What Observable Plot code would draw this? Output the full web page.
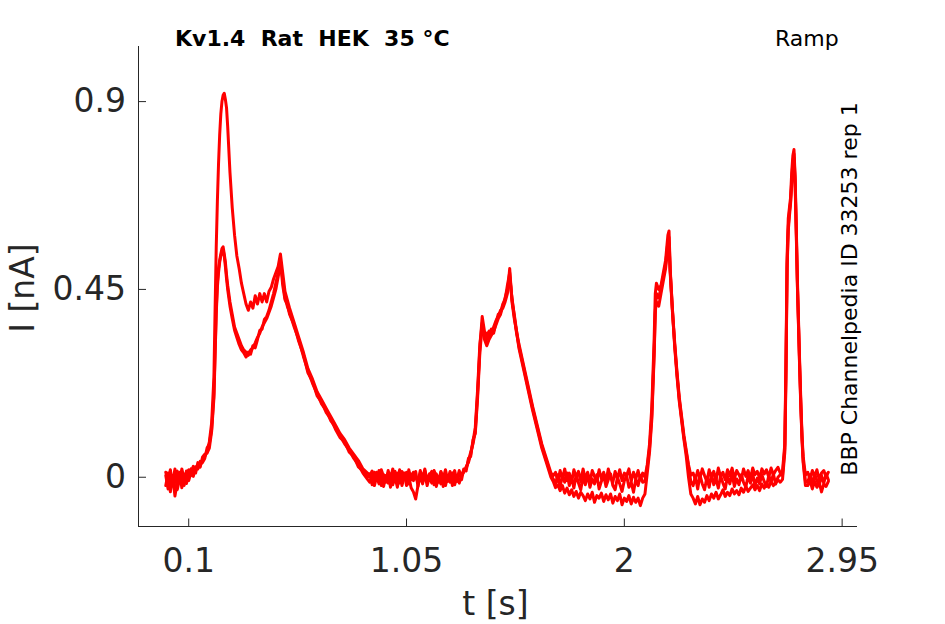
<!DOCTYPE html>
<html>
<head>
<meta charset="utf-8">
<script src="https://cdn.jsdelivr.net/npm/d3@7"></script>
<script src="https://cdn.jsdelivr.net/npm/@observablehq/plot@0.6"></script>
<style>
  html, body { margin: 0; padding: 0; background: #fff; overflow: hidden; }
  #wrap { position: relative; width: 945px; height: 624px; font-family: "DejaVu Sans", sans-serif; }
  .lbl { position: absolute; white-space: pre; line-height: 1; }
</style>
</head>
<body>
<div id="wrap">
  <div id="chart"></div>
  <div class="lbl" style="left:175px; top:28px; font-size:22px; font-weight:bold; color:#000;">Kv1.4  Rat  HEK  35 °C</div>
  <div class="lbl" style="left:775px; top:28px; font-size:22px; color:#000;">Ramp</div>
  <div class="lbl" style="left:850.4px; top:288.5px; font-size:22px; color:#000; transform:translate(-50%,-50%) rotate(-90deg);">BBP Channelpedia ID 33253 rep 1</div>
  <div class="lbl" style="left:21.6px; top:287.5px; font-size:33px; color:#262626; transform:translate(-50%,-50%) rotate(-90deg);">I [nA]</div>
  <div class="lbl" style="left:495.5px; top:587px; font-size:33px; color:#262626; transform:translateX(-50%);">t [s]</div>
</div>
<script>
// sample times (s)
const time = [
  0.00, 0.01, 0.02, 0.03, 0.04, 0.05, 0.06, 0.07, 0.08, 0.09,
  0.10, 0.11, 0.12, 0.13, 0.14, 0.15, 0.16, 0.17, 0.18,
  0.19, 0.20, 0.21, 0.215, 0.22, 0.225, 0.23, 0.235, 0.24, 0.245,
  0.25, 0.255, 0.26, 0.265, 0.27, 0.28, 0.29, 0.30, 0.31, 0.32,
  0.33, 0.34, 0.35, 0.36, 0.37, 0.38, 0.39, 0.40, 0.41, 0.42,
  0.43, 0.44, 0.45, 0.46, 0.47, 0.48, 0.49, 0.50, 0.51, 0.52,
  0.53, 0.54, 0.56, 0.58, 0.60, 0.62, 0.64, 0.66, 0.68, 0.70,
  0.72, 0.74, 0.76, 0.78, 0.80, 0.82, 0.84, 0.86, 0.88,
  0.89, 0.90, 0.91, 0.92, 0.93, 0.94, 0.95, 0.96, 0.97, 0.98,
  0.99, 1.00, 1.01, 1.02, 1.03, 1.04, 1.05, 1.06, 1.07, 1.08,
  1.09, 1.10, 1.11, 1.12, 1.13, 1.14, 1.15, 1.16, 1.17, 1.18,
  1.19, 1.20, 1.21, 1.22, 1.23, 1.24, 1.25, 1.26, 1.27, 1.28,
  1.29, 1.30,
  1.31, 1.32, 1.33, 1.34, 1.35, 1.36, 1.37, 1.38, 1.39, 1.40,
  1.41, 1.42, 1.43, 1.44, 1.45, 1.46, 1.47, 1.48, 1.49, 1.50,
  1.51, 1.52, 1.53, 1.54, 1.56, 1.58, 1.60, 1.62, 1.64, 1.66, 1.68,
  1.69, 1.70, 1.71, 1.72, 1.73, 1.74, 1.75, 1.76, 1.77, 1.78,
  1.79, 1.80, 1.81, 1.82, 1.83, 1.84, 1.85, 1.86, 1.87, 1.88,
  1.89, 1.90, 1.91, 1.92, 1.93, 1.94, 1.95, 1.96, 1.97, 1.98,
  1.99, 2.00, 2.01, 2.02, 2.03, 2.04, 2.05, 2.06, 2.07, 2.08,
  2.09, 2.10, 2.11, 2.12, 2.13, 2.135, 2.14, 2.15, 2.16, 2.17,
  2.18, 2.19, 2.195, 2.20, 2.21, 2.22, 2.23, 2.24, 2.25, 2.26,
  2.27, 2.28, 2.29,
  2.30, 2.31, 2.32, 2.33, 2.34, 2.35, 2.36, 2.37, 2.38, 2.39,
  2.40, 2.41, 2.42, 2.43, 2.44, 2.45, 2.46, 2.47, 2.48, 2.49,
  2.50, 2.51, 2.52, 2.53, 2.54, 2.55, 2.56, 2.57, 2.58, 2.59,
  2.60, 2.61, 2.62, 2.63, 2.64, 2.65, 2.66, 2.67, 2.68,
  2.69, 2.70, 2.705, 2.71, 2.715, 2.72, 2.725, 2.73, 2.735, 2.74,
  2.745, 2.75, 2.755, 2.76, 2.765, 2.77, 2.775, 2.78, 2.79,
  2.80, 2.81, 2.82, 2.83, 2.84, 2.85, 2.86, 2.87, 2.88, 2.89
];

// sweep with the tall first peak (nA)
const currentA = [
  0.012, -0.008, 0.018, -0.02, 0.005, 0.015, -0.01, 0.02, -0.005, 0.01,
  0.018, 0.004, 0.022, 0.015, 0.03, 0.028, 0.04, 0.05, 0.06,
  0.085, 0.13, 0.24, 0.4, 0.55, 0.66, 0.75, 0.82, 0.87, 0.9,
  0.915, 0.92, 0.905, 0.885, 0.84, 0.73, 0.645, 0.58, 0.53, 0.5,
  0.465, 0.44, 0.415, 0.4, 0.42, 0.405, 0.435, 0.415, 0.44, 0.42,
  0.44, 0.42, 0.445, 0.455, 0.475, 0.49, 0.505, 0.535, 0.49, 0.445,
  0.425, 0.405, 0.37, 0.335, 0.3, 0.26, 0.235, 0.205, 0.185, 0.165,
  0.145, 0.125, 0.105, 0.09, 0.07, 0.055, 0.04, 0.02, 0.01,
  0.004, 0.015, -0.008, 0.012, -0.012, 0.018, 0.002, -0.01, 0.016, -0.004,
  0.02, -0.008, 0.01, -0.014, 0.014, 0.004, -0.01, 0.018, -0.006, 0.012,
  0.0, -0.012, 0.016, -0.004, 0.02, -0.01, 0.008, -0.006, 0.016, 0.002,
  -0.012, 0.014, -0.002, 0.018, -0.008, 0.01, 0.002, 0.016, -0.01, 0.012,
  0.004, 0.018,
  0.02, 0.04, 0.06, 0.08, 0.11, 0.2, 0.31, 0.385, 0.35, 0.34,
  0.35, 0.345, 0.36, 0.375, 0.385, 0.4, 0.405, 0.42, 0.44, 0.5,
  0.42, 0.38, 0.35, 0.32, 0.27, 0.22, 0.17, 0.125, 0.08, 0.045, 0.01,
  0.004, 0.012, -0.01, 0.016, -0.004, 0.02, -0.008, 0.01, -0.012, 0.018,
  0.0, 0.014, -0.01, 0.02, -0.004, 0.012, -0.012, 0.016, 0.002, -0.008,
  0.018, -0.004, 0.012, -0.01, 0.02, 0.0, -0.012, 0.014, -0.004, 0.018,
  -0.008, 0.01, 0.004, 0.02, -0.01, 0.012, -0.004, 0.016, -0.006, 0.01,
  0.0, 0.03, 0.08, 0.17, 0.33, 0.44, 0.465, 0.45, 0.46, 0.49,
  0.52, 0.58, 0.59, 0.5, 0.4, 0.32, 0.25, 0.19, 0.145, 0.1,
  0.065, 0.03, 0.005,
  0.01, -0.006, 0.016, -0.002, 0.02, 0.004, -0.01, 0.018, 0.0, 0.014,
  -0.008, 0.022, 0.002, 0.012, -0.006, 0.018, 0.004, 0.022, -0.004, 0.016,
  0.006, -0.006, 0.02, 0.002, 0.016, -0.004, 0.022, 0.006, 0.014, -0.002,
  0.02, 0.008, 0.018, 0.0, 0.022, 0.006, 0.016, 0.024, 0.01,
  0.015, 0.08, 0.28, 0.53, 0.62, 0.645, 0.67, 0.73, 0.77, 0.785,
  0.72, 0.6, 0.47, 0.37, 0.27, 0.18, 0.1, 0.05, 0.005,
  0.012, -0.004, 0.016, 0.002, 0.018, -0.006, 0.01, 0.016, 0.0, 0.012
];

// sweep with the short first peak (nA)
const currentB = [
  -0.02, 0.01, -0.035, 0.005, -0.045, -0.01, 0.012, -0.025, 0.008, -0.015,
  0.005, 0.02, 0.002, 0.025, 0.02, 0.038, 0.035, 0.045, 0.07,
  0.08, 0.115, 0.2, 0.3, 0.4, 0.465, 0.5, 0.52, 0.535, 0.548,
  0.552, 0.535, 0.515, 0.485, 0.46, 0.42, 0.39, 0.36, 0.345, 0.33,
  0.315, 0.305, 0.3, 0.292, 0.305, 0.31, 0.322, 0.335, 0.345, 0.36,
  0.37, 0.38, 0.395, 0.41, 0.43, 0.45, 0.48, 0.51, 0.475, 0.43,
  0.41, 0.395, 0.36, 0.33, 0.29, 0.255, 0.225, 0.2, 0.175, 0.16,
  0.135, 0.12, 0.1, 0.08, 0.065, 0.045, 0.03, 0.01, -0.005,
  -0.012, 0.006, -0.02, 0.002, -0.016, 0.01, -0.022, 0.004, -0.014, 0.008,
  -0.018, 0.0, -0.024, 0.006, -0.012, 0.01, -0.02, 0.002, -0.025, -0.035,
  -0.052, -0.02, 0.004, -0.016, 0.008, -0.02, 0.002, -0.014, 0.01, -0.022,
  0.0, -0.016, 0.006, -0.02, 0.004, -0.012, 0.01, -0.018, 0.002, -0.014,
  0.006, 0.012,
  0.025, 0.035, 0.055, 0.085, 0.12, 0.21, 0.32, 0.37, 0.33, 0.315,
  0.33, 0.34, 0.35, 0.365, 0.38, 0.39, 0.41, 0.43, 0.45, 0.48,
  0.43, 0.385, 0.345, 0.315, 0.265, 0.215, 0.165, 0.12, 0.075, 0.04, 0.005,
  -0.004, -0.016, 0.006, -0.022, 0.004, -0.012, 0.01, -0.02, 0.0, -0.026,
  0.006, -0.014, -0.03, 0.002, -0.018, 0.008, -0.024, -0.004, -0.016, 0.006,
  -0.028, -0.01, 0.004, -0.022, -0.006, 0.008, -0.02, -0.03, 0.0, -0.016,
  -0.034, -0.008, 0.004, -0.024, -0.012, -0.036, -0.004, -0.02, 0.004, -0.012,
  -0.01, 0.025, 0.07, 0.15, 0.3, 0.4, 0.42, 0.41, 0.44, 0.47,
  0.5, 0.55, 0.56, 0.49, 0.395, 0.315, 0.245, 0.185, 0.14, 0.095,
  0.06, 0.025, -0.01,
  -0.02, 0.002, -0.028, 0.006, -0.016, -0.03, 0.0, -0.024, 0.008, -0.018,
  -0.004, -0.026, 0.004, -0.014, -0.028, 0.002, -0.016, 0.008, -0.022, -0.004,
  -0.018, 0.006, -0.012, -0.024, 0.004, -0.014, 0.008, -0.02, -0.002, -0.016,
  0.006, -0.01, -0.022, 0.004, -0.012, 0.008, -0.016, 0.0, 0.006,
  0.005, 0.07, 0.26, 0.51, 0.6, 0.635, 0.66, 0.71, 0.755, 0.775,
  0.71, 0.59, 0.46, 0.36, 0.26, 0.17, 0.095, 0.04, -0.01,
  -0.012, 0.006, -0.018, 0.008, -0.008, -0.02, 0.004, -0.014, 0.008, -0.006
];

// sweep with the lower baseline late in the ramp (nA)
const currentC = [
  0.004, -0.028, 0.008, -0.012, 0.02, -0.03, -0.005, 0.01, -0.02, 0.015,
  -0.008, 0.012, 0.026, 0.01, 0.035, 0.024, 0.048, 0.055, 0.058,
  0.07, 0.11, 0.19, 0.29, 0.39, 0.455, 0.49, 0.515, 0.53, 0.54,
  0.545, 0.53, 0.505, 0.475, 0.45, 0.41, 0.38, 0.352, 0.335, 0.318,
  0.305, 0.298, 0.288, 0.3, 0.295, 0.315, 0.31, 0.33, 0.352, 0.355,
  0.378, 0.385, 0.4, 0.42, 0.44, 0.465, 0.49, 0.52, 0.46, 0.425,
  0.415, 0.39, 0.365, 0.325, 0.295, 0.25, 0.23, 0.195, 0.18, 0.155,
  0.14, 0.115, 0.095, 0.085, 0.06, 0.05, 0.025, 0.015, 0.0,
  0.008, -0.018, 0.012, -0.006, 0.016, -0.02, 0.006, -0.012, 0.01, -0.024,
  0.004, 0.014, -0.01, 0.018, -0.02, 0.002, 0.012, -0.016, 0.008, -0.008,
  0.014, -0.022, 0.01, -0.004, 0.016, -0.012, 0.004, 0.014, -0.018, 0.008,
  -0.008, 0.012, -0.022, 0.006, -0.01, 0.014, -0.02, 0.006, -0.008, 0.016,
  -0.006, 0.02,
  0.015, 0.045, 0.05, 0.09, 0.105, 0.19, 0.3, 0.36, 0.34, 0.33,
  0.34, 0.355, 0.345, 0.37, 0.39, 0.395, 0.415, 0.425, 0.46, 0.49,
  0.425, 0.39, 0.35, 0.31, 0.26, 0.21, 0.16, 0.115, 0.07, 0.035, 0.0,
  -0.01, -0.025, -0.018, -0.032, -0.02, -0.038, -0.026, -0.042, -0.03, -0.046,
  -0.034, -0.05, -0.036, -0.044, -0.056, -0.04, -0.052, -0.036, -0.06, -0.044,
  -0.05, -0.038, -0.058, -0.042, -0.054, -0.04, -0.062, -0.046, -0.056, -0.04,
  -0.066, -0.05, -0.058, -0.044, -0.064, -0.048, -0.06, -0.05, -0.068, -0.05,
  -0.04, 0.01, 0.06, 0.14, 0.29, 0.39, 0.44, 0.43, 0.455, 0.48,
  0.51, 0.565, 0.575, 0.495, 0.4, 0.31, 0.24, 0.18, 0.135, 0.09,
  0.05, 0.0, -0.04,
  -0.05, -0.064, -0.046, -0.066, -0.052, -0.06, -0.044, -0.056, -0.04, -0.05,
  -0.036, -0.052, -0.042, -0.03, -0.046, -0.036, -0.044, -0.028, -0.04, -0.032,
  -0.042, -0.026, -0.036, -0.022, -0.034, -0.026, -0.018, -0.03, -0.02, -0.032,
  -0.016, -0.026, -0.014, -0.024, -0.01, -0.02, -0.014, -0.006, -0.012,
  -0.005, 0.06, 0.24, 0.5, 0.59, 0.625, 0.655, 0.7, 0.745, 0.765,
  0.7, 0.58, 0.455, 0.355, 0.255, 0.165, 0.09, 0.035, -0.02,
  -0.02, -0.008, -0.028, -0.01, -0.024, -0.012, -0.035, -0.016, -0.022, -0.01
];

const xTicks = [0.1, 1.05, 2, 2.95];
const yTicks = [0, 0.45, 0.9];
const xDomain = [-0.119, 3.017];
const yDomain = [-0.118, 1.032];

const traces = [["A", currentA], ["B", currentB], ["C", currentC]];
const rows = traces.flatMap(([name, vals]) =>
  time.map((t, k) => ({trace: name, t, i: vals[k]})).filter(d => d.i !== undefined)
);

const chart = Plot.plot({
  width: 945,
  height: 624,
  marginLeft: 138,
  marginRight: 88,
  marginTop: 46,
  marginBottom: 98,
  style: {fontFamily: "DejaVu Sans", color: "#262626", background: "white"},
  x: {domain: xDomain},
  y: {domain: yDomain},
  marks: [
    Plot.line(rows, {x: "t", y: "i", z: "trace", stroke: "#ff0000", strokeWidth: 3, curve: "linear"}),
    Plot.ruleX([xDomain[0]], {stroke: "#262626", strokeWidth: 1}),
    Plot.ruleY([yDomain[0]], {stroke: "#262626", strokeWidth: 1}),
    Plot.tickX(xTicks, {x: d => d, insetTop: 472.5, stroke: "#262626", strokeWidth: 1}),
    Plot.tickY(yTicks, {y: d => d, insetRight: 711, stroke: "#262626", strokeWidth: 1}),
    Plot.axisX(xTicks, {anchor: "bottom", tickSize: 0, tickPadding: 22, fontSize: 33, label: null, tickFormat: d => String(d)}),
    Plot.axisY(yTicks, {anchor: "left", tickSize: 0, tickPadding: 12.5, fontSize: 33, label: null, tickFormat: d => String(d)})
  ]
});
document.getElementById("chart").appendChild(chart);
</script>
</body>
</html>
